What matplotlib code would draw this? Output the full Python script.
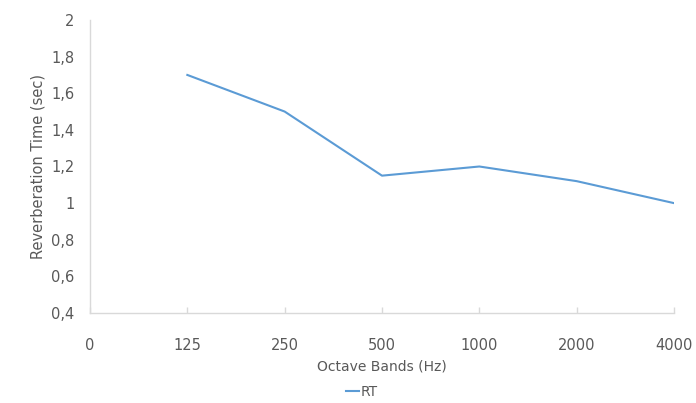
import numpy as np
import matplotlib
matplotlib.use("Agg")
import matplotlib.pyplot as plt
from matplotlib.ticker import FixedLocator, FuncFormatter

categories = ["0", "125", "250", "500", "1000", "2000", "4000"]
rt_values = [np.nan, 1.7, 1.5, 1.15, 1.2, 1.12, 1.0]
y_ticks = [0.4, 0.6, 0.8, 1.0, 1.2, 1.4, 1.6, 1.8, 2.0]

text_color = "#595959"
axis_color = "#D9D9D9"
line_color = "#5B9BD5"

plt.rcParams["font.family"] = ["DejaVu Sans"]

fig = plt.figure(figsize=(6.96, 4.03), dpi=100)
ax = fig.add_axes([90 / 696, (403 - 313) / 403, (674 - 90) / 696, (313 - 20) / 403])

x = np.arange(len(categories))
ax.plot(x, rt_values, color=line_color, linewidth=1.5, label="RT")

ax.set_xlim(0, len(categories) - 1)
ax.set_ylim(0.4, 2.0)
ax.set_xticks(x)
ax.set_xticklabels(categories)
ax.yaxis.set_major_locator(FixedLocator(y_ticks))
ax.yaxis.set_major_formatter(FuncFormatter(lambda v, p: ("%g" % round(v, 2)).replace(".", ",")))

for side in ["top", "right"]:
    ax.spines[side].set_visible(False)
for side in ["left", "bottom"]:
    ax.spines[side].set_color(axis_color)
    ax.spines[side].set_linewidth(1.0)

ax.tick_params(axis="x", direction="in", length=4, width=1, color=axis_color,
               labelsize=10.5, labelcolor=text_color, pad=18)
ax.tick_params(axis="y", length=0, labelsize=10.5, labelcolor=text_color, pad=11)

ax.set_xlabel("Octave Bands (Hz)", fontsize=10, color=text_color)
ax.xaxis.set_label_coords(0.5, (313 - 367) / 293)
ax.xaxis.label.set_va("center")
ax.set_ylabel("Reverberation Time (sec)", fontsize=10.5, color=text_color)
ax.yaxis.set_label_coords((38 - 90) / 584, 0.5)
ax.yaxis.label.set_va("center")

leg = fig.legend(loc="center", bbox_to_anchor=(362 / 696, (403 - 392) / 403),
                 frameon=False, fontsize=10, handlelength=0.9, handletextpad=0.15,
                 labelcolor=text_color)

fig.savefig("out.png", dpi=100)
